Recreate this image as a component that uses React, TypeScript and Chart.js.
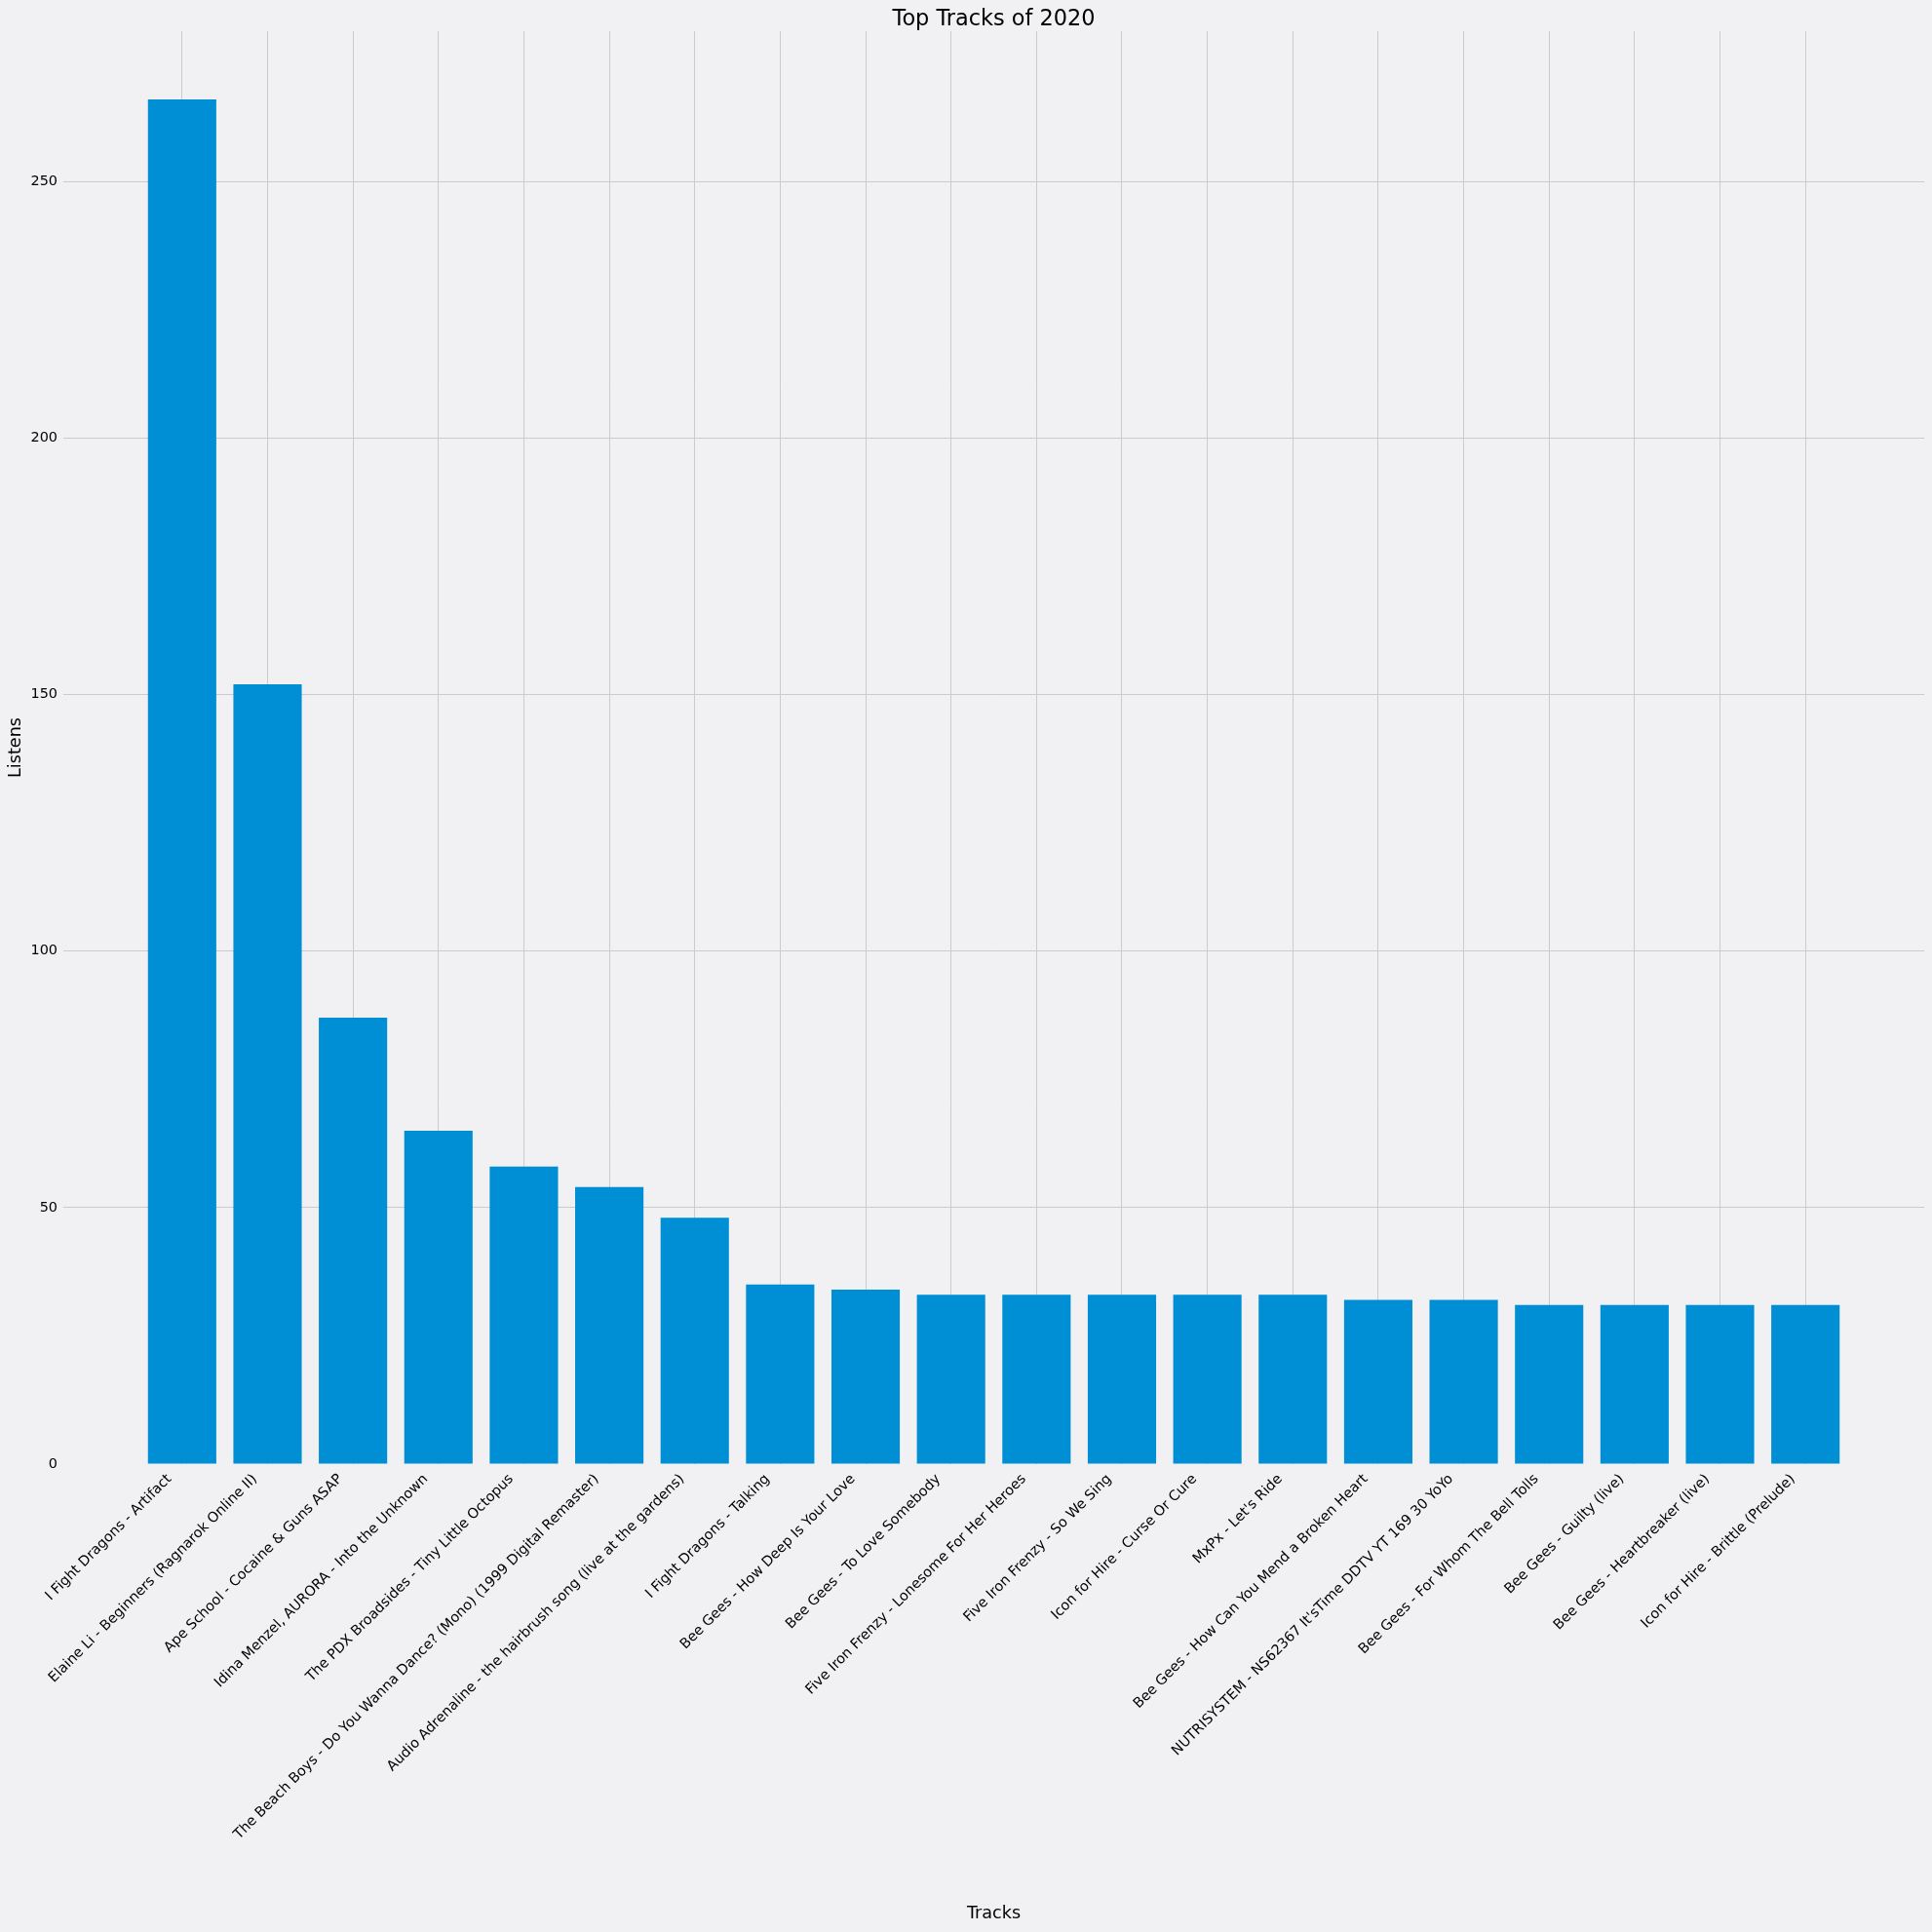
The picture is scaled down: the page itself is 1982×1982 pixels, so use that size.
import { useEffect, useRef } from 'react';
import { Chart, registerables } from 'chart.js';

Chart.register(...registerables);

const chartTitle = 'Top Tracks of 2020';

const tracks = [
  'I Fight Dragons - Artifact',
  'Elaine Li - Beginners (Ragnarok Online II)',
  'Ape School - Cocaine & Guns ASAP',
  'Idina Menzel, AURORA - Into the Unknown',
  'The PDX Broadsides - Tiny Little Octopus',
  'The Beach Boys - Do You Wanna Dance? (Mono) (1999 Digital Remaster)',
  'Audio Adrenaline - the hairbrush song (live at the gardens)',
  'I Fight Dragons - Talking',
  'Bee Gees - How Deep Is Your Love',
  'Bee Gees - To Love Somebody',
  'Five Iron Frenzy - Lonesome For Her Heroes',
  'Five Iron Frenzy - So We Sing',
  'Icon for Hire - Curse Or Cure',
  "MxPx - Let's Ride",
  'Bee Gees - How Can You Mend a Broken Heart',
  "NUTRISYSTEM - NS62367 It'sTime DDTV YT 169 30 YoYo",
  'Bee Gees - For Whom The Bell Tolls',
  'Bee Gees - Guilty (live)',
  'Bee Gees - Heartbreaker (live)',
  'Icon for Hire - Brittle (Prelude)',
];

const listens = [266, 152, 87, 65, 58, 54, 48, 35, 34, 33, 33, 33, 33, 33, 32, 32, 31, 31, 31, 31];

const yTicks = [0, 50, 100, 150, 200, 250];

const FONT = "'DejaVu Sans', sans-serif";
const TEXT = '#000';
const GRID = '#cbcbcb';

export default function App() {
  const chartRef = useRef<HTMLCanvasElement>(null);
  const chartInstance = useRef<Chart | null>(null);

  useEffect(() => {
    document.body.style.margin = '0';
    document.body.style.overflow = 'hidden';
    if (!chartRef.current) return;
    if (chartInstance.current) chartInstance.current.destroy();

    const ctx = chartRef.current.getContext('2d');
    if (!ctx) return;

    // matplotlib-style margins: 5% padding on the x range and above the max
    const n = tracks.length;
    const span = n - 1 + 0.8;
    const xMin = -0.4 - span * 0.05;
    const xMax = n - 1 + 0.4 + span * 0.05;
    const yMax = Math.max(...listens) * 1.05;

    const bg = {
      id: 'bg',
      beforeDraw(chart: Chart) {
        const c = chart.ctx;
        c.save();
        c.fillStyle = '#f1f0f2';
        c.fillRect(0, 0, chart.width, chart.height);
        c.restore();
      },
    };

    // title centred over the plot area, like matplotlib's ax.set_title
    const plotTitle = {
      id: 'plotTitle',
      afterDraw(chart: Chart) {
        const c = chart.ctx;
        const { left, right } = chart.chartArea;
        c.save();
        c.fillStyle = TEXT;
        c.font = `22.4px ${FONT}`;
        c.textAlign = 'center';
        c.textBaseline = 'alphabetic';
        c.fillText(chartTitle, (left + right) / 2, 25.5);
        c.restore();
      },
    };

    chartInstance.current = new Chart(ctx, {
      type: 'bar',
      data: {
        datasets: [{
          label: 'Listens',
          data: listens.map((v, i) => ({ x: i, y: v })),
          backgroundColor: '#008fd5',
          borderWidth: 0,
          categoryPercentage: 1,
          barPercentage: 0.8,
        }],
      },
      options: {
        animation: false,
        responsive: true,
        maintainAspectRatio: false,
        layout: { padding: { left: 0, right: 8, top: 32, bottom: 0 } },
        plugins: {
          legend: { display: false },
          tooltip: { enabled: false },
          title: { display: false },
        },
        scales: {
          x: {
            type: 'linear',
            offset: false,
            min: xMin,
            max: xMax,
            border: { display: false },
            grid: { color: GRID, lineWidth: 1, drawTicks: false, offset: false },
            afterBuildTicks: (axis: any) => {
              axis.ticks = tracks.map((_, i) => ({ value: i }));
            },
            afterFit: (axis: any) => {
              axis.height = 480;
            },
            ticks: {
              autoSkip: false,
              minRotation: 45,
              maxRotation: 45,
              padding: -6,
              color: TEXT,
              font: { family: FONT, size: 14.4 },
              // trailing spaces pull the text back so its box ends at the tick
              callback: (v: any) => (tracks[v] !== undefined ? tracks[v] + '    ' : ''),
            },
            title: {
              display: true,
              text: 'Tracks',
              color: TEXT,
              font: { family: FONT, size: 17.6 },
              padding: { top: 0, bottom: 8 },
            },
          },
          y: {
            min: 0,
            max: yMax,
            border: { display: false },
            grid: {
              color: (c: any) => (c.tick && c.tick.value === 0 ? 'rgba(0,0,0,0)' : GRID),
              lineWidth: 1,
              drawTicks: false,
            },
            afterBuildTicks: (axis: any) => {
              axis.ticks = yTicks.map(v => ({ value: v }));
            },
            afterFit: (axis: any) => {
              axis.width = 65;
            },
            ticks: {
              padding: 6,
              color: TEXT,
              font: { family: FONT, size: 14.4 },
            },
            title: {
              display: true,
              text: 'Listens',
              color: TEXT,
              font: { family: FONT, size: 17.6 },
              padding: { top: 6, bottom: 0 },
            },
          },
        },
      },
      plugins: [bg, plotTitle],
    });

    return () => {
      if (chartInstance.current) {
        chartInstance.current.destroy();
        chartInstance.current = null;
      }
    };
  }, []);

  return (
    <div style={{ width: 1982, height: 1982, position: 'relative' }}>
      <canvas ref={chartRef} />
    </div>
  );
}
